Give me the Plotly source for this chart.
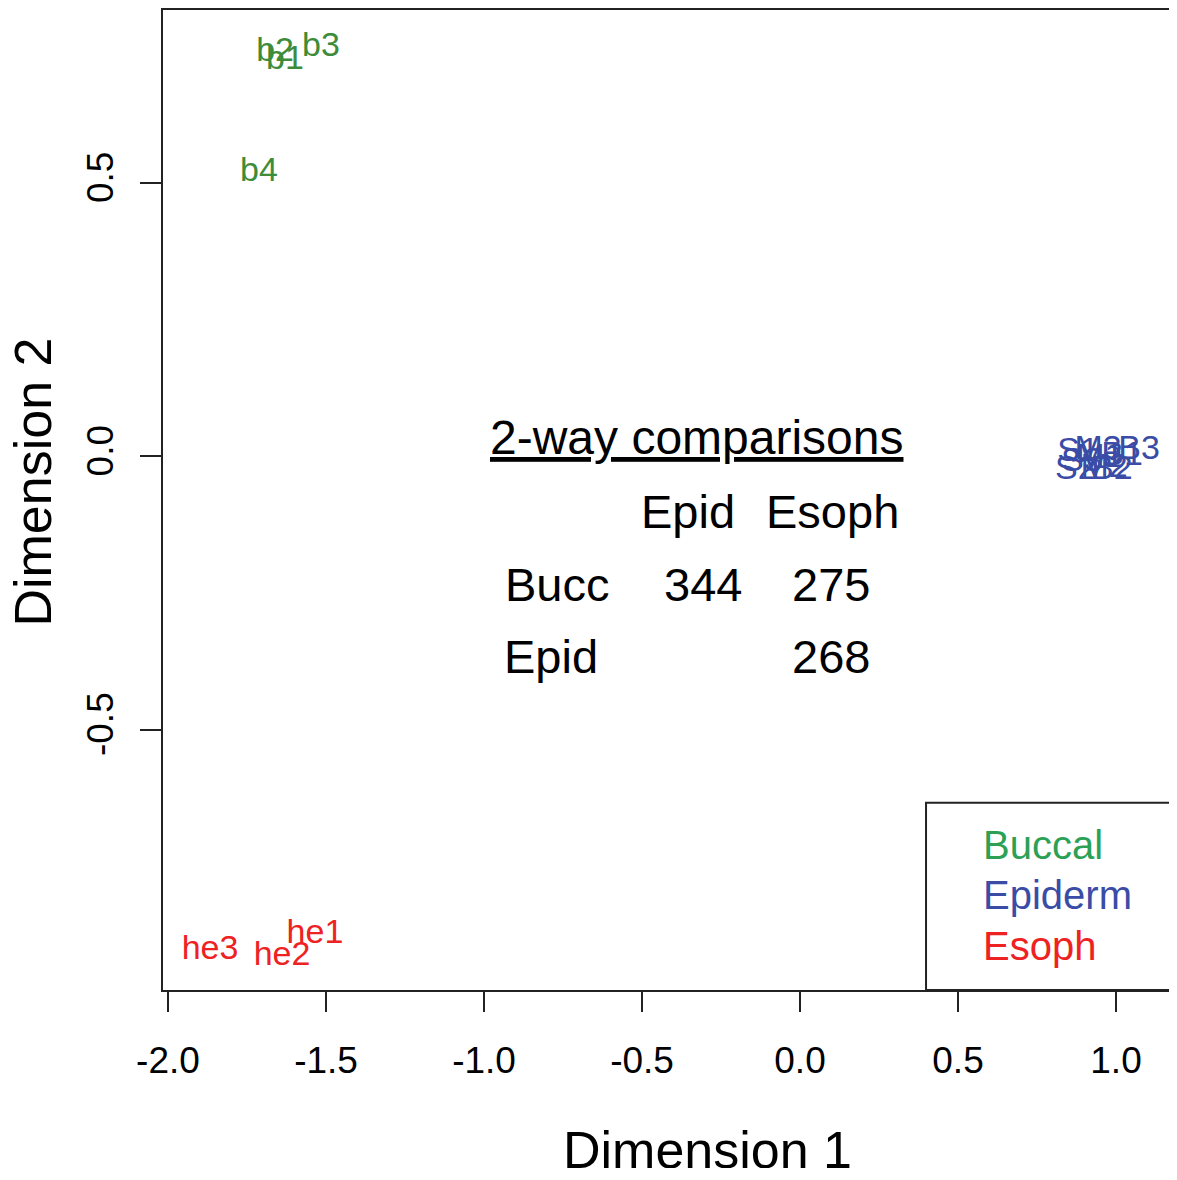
import plotly.graph_objects as go

# ---- data (MDS coordinates) ----
buccal_labels = ["b1", "b2", "b3", "b4"]
buccal_x = [-1.630, -1.661, -1.516, -1.712]
buccal_y = [0.724, 0.739, 0.748, 0.519]

epiderm_labels = ["S1", "S2", "S3", "M1", "M2", "M3", "B1", "B2", "B3"]
epiderm_x = [0.880, 0.873, 0.892, 0.949, 0.962, 0.943, 1.019, 0.987, 1.073]
epiderm_y = [0.007, -0.026, -0.011, -0.004, -0.022, 0.011, 0.000, -0.026, 0.011]

esoph_labels = ["he1", "he2", "he3"]
esoph_x = [-1.535, -1.639, -1.867]
esoph_y = [-0.874, -0.914, -0.903]

group_names = ["Buccal", "Epiderm", "Esoph"]

# 2-way comparison table
table_title = "2-way comparisons"
table_cols = ["Epid", "Esoph"]
table_rows = ["Bucc", "Epid"]
table_values = [[344, 275], [None, 268]]

x_tickvals = [-2.0, -1.5, -1.0, -0.5, 0.0, 0.5, 1.0]
x_ticktext = ["-2.0", "-1.5", "-1.0", "-0.5", "0.0", "0.5", "1.0"]
y_tickvals = [-0.5, 0.0, 0.5]
y_ticktext = ["-0.5", "0.0", "0.5"]

# ---- style ----
FONT = "Liberation Sans, Arial, Helvetica, sans-serif"
pt_colors = ["#3d8c3a", "#3a4ca6", "#ee2222"]
lg_colors = ["#2ca156", "#3a4ca6", "#ee2222"]

fig = go.Figure()
for labels, xs, ys, col, name in [
    (buccal_labels, buccal_x, buccal_y, pt_colors[0], group_names[0]),
    (epiderm_labels, epiderm_x, epiderm_y, pt_colors[1], group_names[1]),
    (esoph_labels, esoph_x, esoph_y, pt_colors[2], group_names[2]),
]:
    fig.add_trace(go.Scatter(
        x=xs, y=ys, mode="text", text=labels, name=name,
        textposition="middle center",
        textfont=dict(family=FONT, size=34, color=col),
        showlegend=False, cliponaxis=False,
    ))

# table annotations (data coordinates)
TFS = 47
col_x = [-0.356, 0.104]
row_label_x = [-0.769, -0.788]
val_x = [-0.307, 0.098]
header_y = -0.1005
row_y = [-0.234, -0.367]

fig.add_annotation(x=-0.328, y=0.035, xref="x", yref="y", text="<u>" + table_title + "</u>",
                   showarrow=False, font=dict(family=FONT, size=48, color="black"))
for cx, c in zip(col_x, table_cols):
    fig.add_annotation(x=cx, y=header_y, xref="x", yref="y", text=c, showarrow=False,
                       font=dict(family=FONT, size=TFS, color="black"))
for i, r in enumerate(table_rows):
    fig.add_annotation(x=row_label_x[i], y=row_y[i], xref="x", yref="y", text=r, showarrow=False,
                       font=dict(family=FONT, size=TFS, color="black"))
    for j, v in enumerate(table_values[i]):
        if v is None:
            continue
        fig.add_annotation(x=val_x[j], y=row_y[i], xref="x", yref="y", text=str(v), showarrow=False,
                           font=dict(family=FONT, size=TFS, color="black"))

# legend box (extends beyond the cropped right edge)
fig.add_shape(type="rect", xref="paper", yref="paper", x0=0.7525, x1=1.08, y0=0.0, y1=0.191,
              line=dict(color="#222222", width=2), fillcolor="white", layer="below")
leg_y = [0.148, 0.0969, 0.0449]
for name, col, ly in zip(group_names, lg_colors, leg_y):
    fig.add_annotation(x=0.8068, y=ly, xref="paper", yref="paper", text=name, showarrow=False,
                       xanchor="left", yanchor="middle", font=dict(family=FONT, size=40, color=col))

# axis titles
fig.add_annotation(x=0.5365, y=-0.1633, xref="paper", yref="paper", text="Dimension 1",
                   xanchor="center", yanchor="middle",
                   showarrow=False, font=dict(family=FONT, size=52, color="black"))
fig.add_annotation(x=-0.128, y=0.518, xref="paper", yref="paper", text="Dimension 2",
                   xanchor="center", yanchor="middle",
                   textangle=-90, showarrow=False, font=dict(family=FONT, size=52, color="black"))

fig.update_layout(
    width=1169, height=1160, autosize=False,
    margin=dict(l=155, r=0, t=2, b=178, pad=0),
    paper_bgcolor="white", plot_bgcolor="white",
    showlegend=False,
)
fig.update_xaxes(range=[-2.0158, 1.193], tickvals=x_tickvals, ticktext=x_ticktext,
                 showgrid=False, zeroline=False, showline=True, mirror=True,
                 linecolor="#222222", linewidth=2, ticks="outside", ticklen=20, tickwidth=2,
                 tickcolor="#222222", ticklabelstandoff=17,
                 tickfont=dict(family=FONT, size=37, color="black"))
fig.update_yaxes(range=[-0.976, 0.816], tickvals=y_tickvals, ticktext=y_ticktext,
                 showgrid=False, zeroline=False, showline=True, mirror=False,
                 linecolor="#222222", linewidth=2, ticks="outside", ticklen=21, tickwidth=2,
                 tickcolor="#222222", tickangle=-90, ticklabelstandoff=12,
                 tickfont=dict(family=FONT, size=37, color="black"))

fig.write_html("out.html", config={"displayModeBar": False})
